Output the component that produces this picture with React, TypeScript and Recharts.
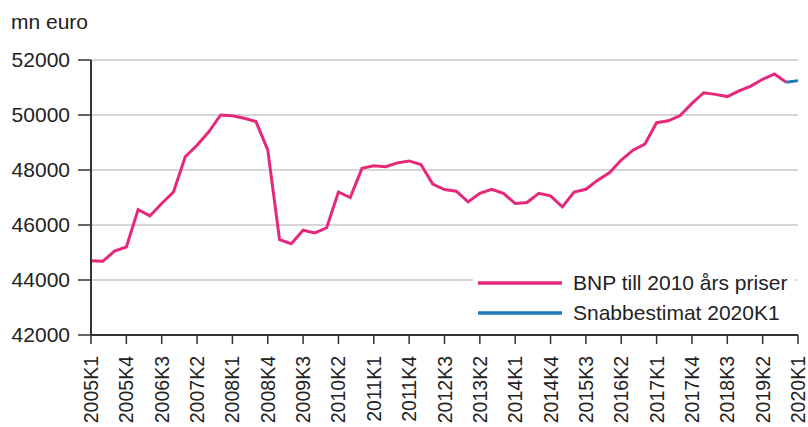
import React from "react";
import { LineChart, Line, XAxis, YAxis, CartesianGrid } from "recharts";

const years = [2005, 2006, 2007, 2008, 2009, 2010, 2011, 2012, 2013, 2014, 2015, 2016, 2017, 2018, 2019, 2020];
const quarters = ["K1", "K2", "K3", "K4"];
const categories: string[] = [];
years.forEach((y) => quarters.forEach((q) => categories.push(`${y}${q}`)));
categories.splice(61);

const bnpValues = [
  44700, 44680, 45050, 45200, 46560, 46330, 46780, 47200, 48480, 48900,
  49390, 50000, 49975, 49880, 49760, 48730, 45470, 45320, 45810, 45710,
  45900, 47200, 47000, 48060, 48150, 48120, 48260, 48330, 48200, 47490,
  47290, 47230, 46840, 47150, 47300, 47150, 46780, 46820, 47150, 47060,
  46660, 47200, 47300, 47630, 47900, 48360, 48720, 48940, 49720, 49790,
  49980, 50420, 50810, 50750, 50670, 50880, 51050, 51300, 51490, 51190,
];
const snabbValues: (number | null)[] = [51190, 51250];
const snabbStart = 59;

const yTicks = [42000, 44000, 46000, 48000, 50000, 52000];

const seriesNames = ["BNP till 2010 års priser", "Snabbestimat 2020K1"];
const colors = ["#e6287c", "#1f78b8"];

const data = categories.map((c, i) => ({
  cat: c,
  bnp: i < bnpValues.length ? bnpValues[i] : null,
  snabb: i >= snabbStart ? snabbValues[i - snabbStart] : null,
}));

const FONT = "'Liberation Sans', Arial, sans-serif";

const XTick = (props: any) => {
  const { x, y, payload } = props;
  return (
    <g transform={`translate(${x},${y})`}>
      <text
        x={0}
        y={0}
        dy="0.36em"
        transform="rotate(-90)"
        textAnchor="end"
        fill="#222"
        fontSize={19.5}
        fontFamily={FONT}
      >
        {payload.value}
      </text>
    </g>
  );
};

export default function App() {
  return (
    <div style={{ position: "absolute", left: 0, top: 0, width: 808, height: 427, background: "#fff", fontFamily: FONT }}>
      <div style={{ position: "absolute", left: 11, top: 10, fontSize: 21, lineHeight: "24px", color: "#222" }}>mn euro</div>
      <LineChart width={808} height={427} data={data} margin={{ top: 60, right: 10, bottom: 0, left: 0 }}>
        <CartesianGrid vertical={false} stroke="#d6d6d6" strokeWidth={2} />
        <XAxis
          dataKey="cat"
          interval={2}
          height={92}
          tickSize={9}
          tickMargin={12}
          tick={<XTick />}
          axisLine={{ stroke: "#333", strokeWidth: 2 }}
          tickLine={{ stroke: "#333", strokeWidth: 1.5 }}
        />
        <YAxis
          width={91}
          domain={[42000, 52000]}
          ticks={yTicks}
          interval={0}
          tickSize={13}
          tickMargin={8}
          tick={{ fill: "#222", fontSize: 21, fontFamily: FONT }}
          axisLine={{ stroke: "#333", strokeWidth: 2 }}
          tickLine={{ stroke: "#333", strokeWidth: 1.5 }}
        />
        <Line
          dataKey="bnp"
          name={seriesNames[0]}
          stroke={colors[0]}
          strokeWidth={3}
          dot={false}
          isAnimationActive={false}
          connectNulls={false}
        />
        <Line
          dataKey="snabb"
          name={seriesNames[1]}
          stroke={colors[1]}
          strokeWidth={3}
          dot={false}
          isAnimationActive={false}
        />
      </LineChart>
      <div
        style={{
          position: "absolute",
          left: 473,
          top: 266,
          width: 322,
          height: 62,
          background: "#fff",
          fontSize: 21,
          color: "#222",
        }}
      >
        {seriesNames.map((n, i) => (
          <div key={n} style={{ position: "absolute", left: 0, top: 2 + i * 30, height: 30, display: "flex", alignItems: "center", whiteSpace: "nowrap" }}>
            <svg width={100} height={30} style={{ display: "block" }}>
              <line x1={5} x2={89} y1={15} y2={15} stroke={colors[i]} strokeWidth={3.5} />
            </svg>
            <span>{n}</span>
          </div>
        ))}
      </div>
    </div>
  );
}
